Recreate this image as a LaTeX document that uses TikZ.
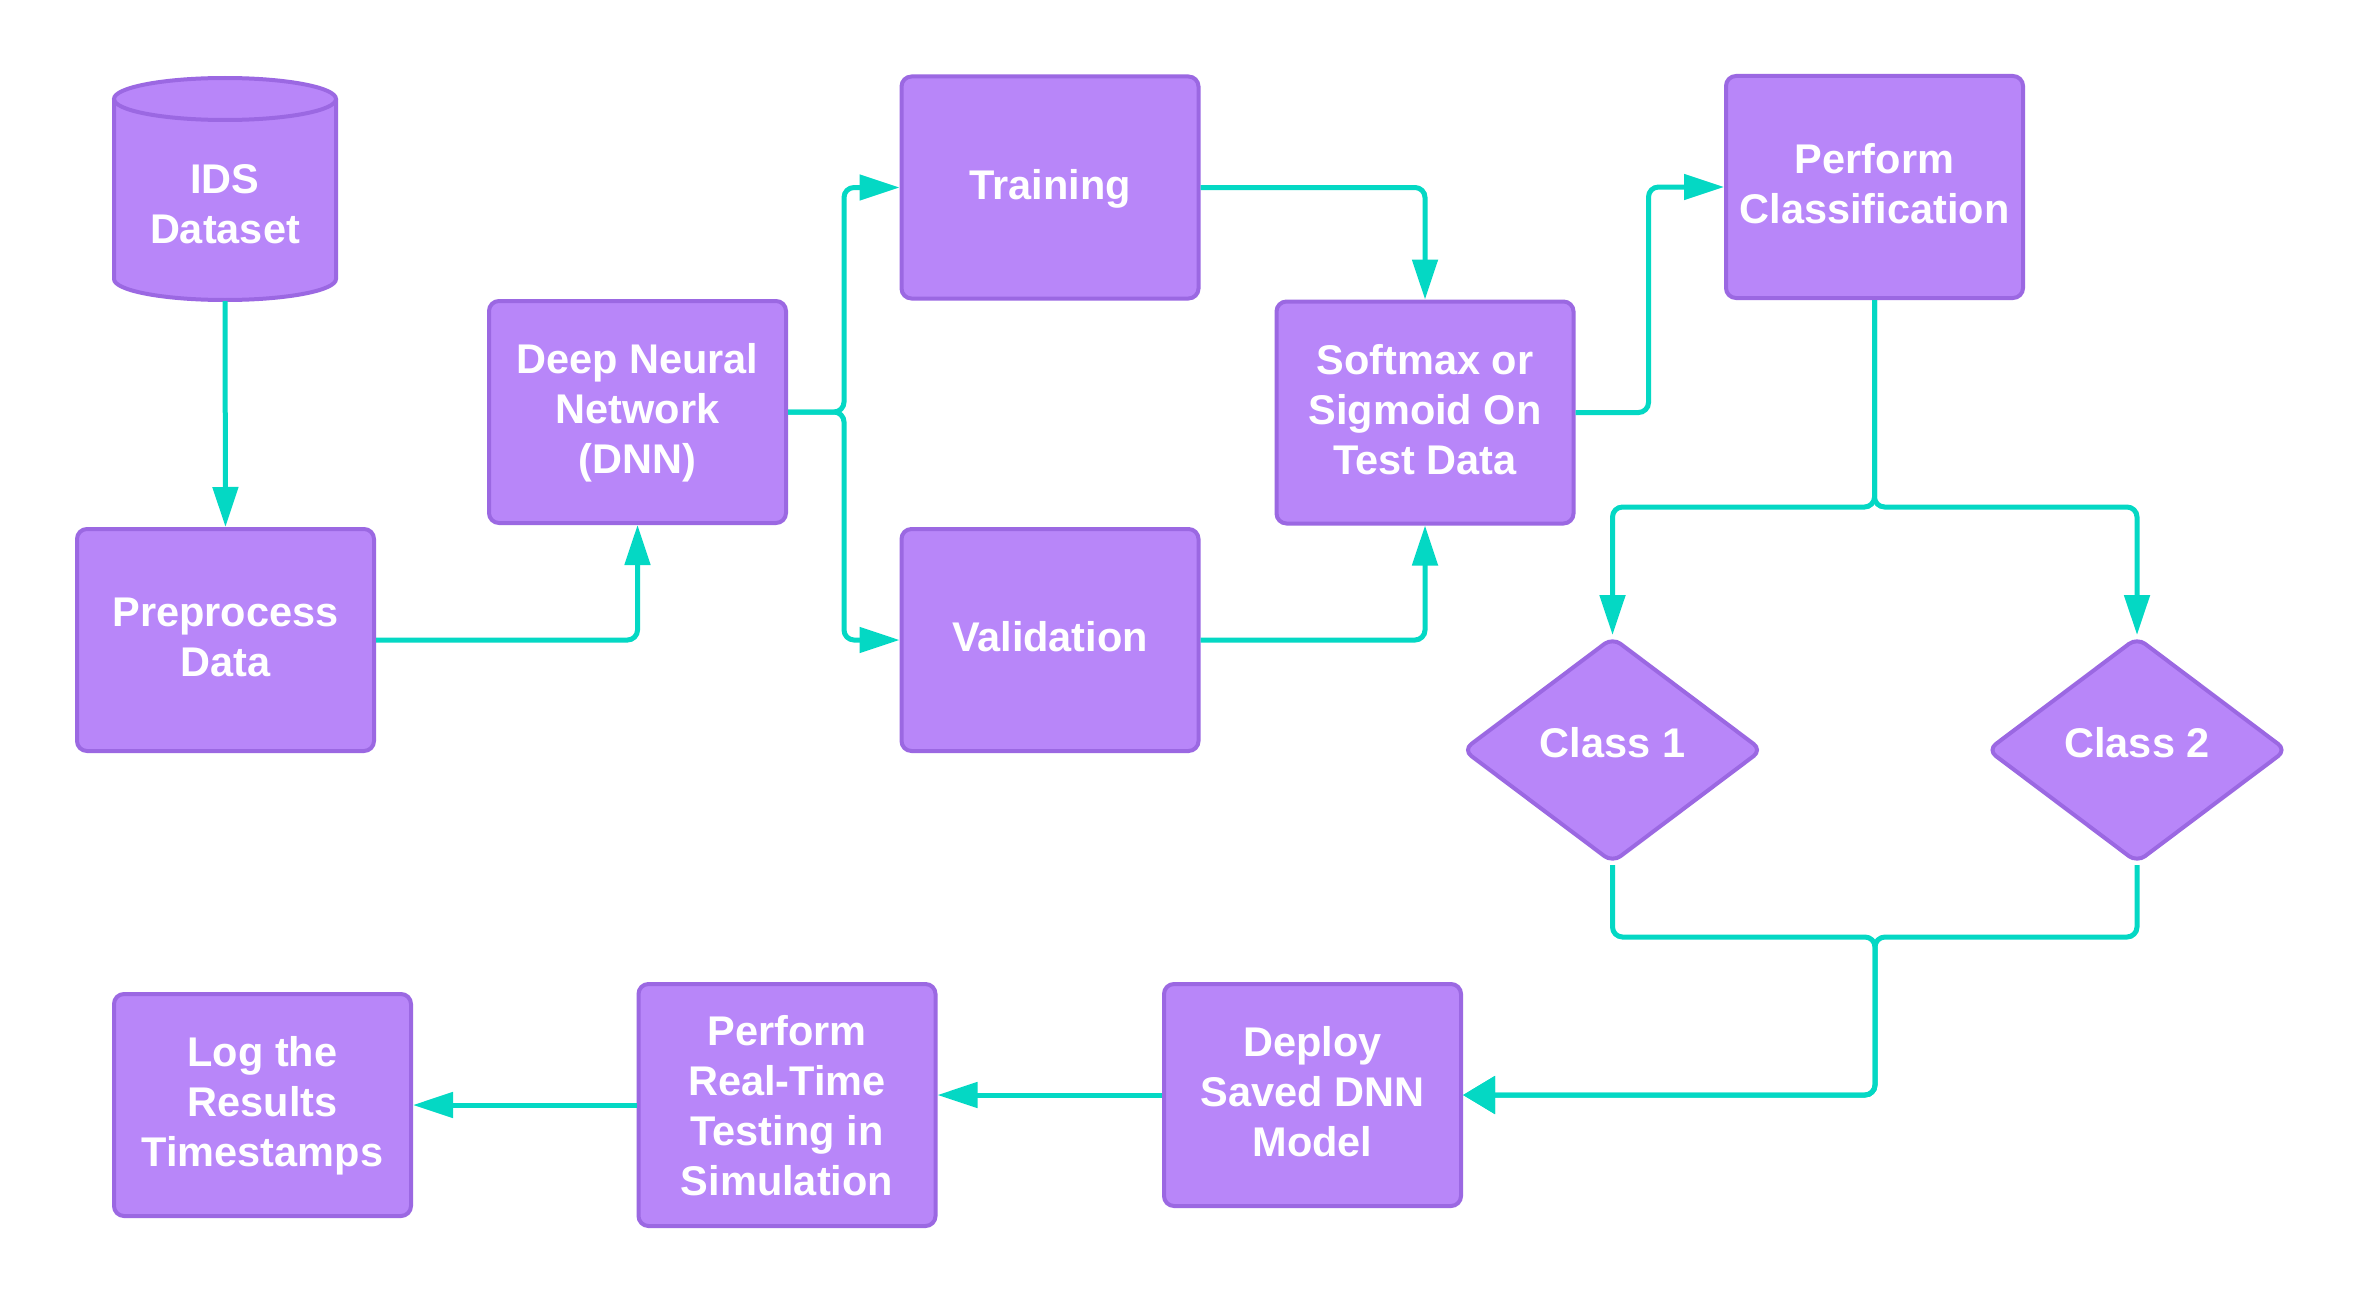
\documentclass[tikz,border=0pt]{standalone}
\usepackage{fontspec}
\setmainfont{Liberation Sans}
\usetikzlibrary{arrows.meta,shapes.geometric}
\definecolor{boxfill}{HTML}{B886F9}
\definecolor{boxline}{HTML}{9B68E2}
\definecolor{conncol}{HTML}{04D8C4}
\newcommand\tstrut{\rule[-11pt]{0pt}{45pt}}
\newcommand\dstrut{\rule[-15pt]{0pt}{35pt}}
\newcommand\rstrut{\rule[-10pt]{0pt}{50pt}}
\begin{document}
\begin{tikzpicture}[x=1pt,y=-1pt,
  boxtext/.style={text=white, align=center, inner sep=0pt, font=\fontsize{41.5}{50}\selectfont\bfseries},
  box/.style={boxtext, draw=boxline, fill=boxfill, line width=4pt, rounded corners=10pt,
              minimum width=297pt, minimum height=222pt},
  dia/.style={boxtext, diamond, draw=boxline, fill=boxfill, line width=4pt, rounded corners=10pt,
              minimum width=300pt, minimum height=226pt},
  conn/.style={draw=conncol, line width=5pt, rounded corners=10pt, -{Triangle[length=40pt,width=25pt]}},
  wideconn/.style={draw=conncol, line width=5pt, rounded corners=10pt, -{Triangle[length=32pt,width=37pt]}},
]
\useasboundingbox[fill=white] (0,0) rectangle (2363,1303);

% cylinder
\path[fill=boxfill] (114,99) -- (114,279) arc[start angle=180, end angle=360, x radius=111pt, y radius=21pt]
  -- (336,99) arc[start angle=0, end angle=180, x radius=111pt, y radius=21pt] -- cycle;
\draw[boxline, line width=4pt] (114,99) -- (114,279) arc[start angle=180, end angle=360, x radius=111pt, y radius=21pt]
  -- (336,99);
\draw[boxline, line width=4pt] (225,99) ellipse[x radius=111pt, y radius=21pt];
\node[boxtext, minimum width=222pt, minimum height=188pt] (ids) at (225,207) {\tstrut IDS\\Dataset\tstrut};

\node[box] (pre)  at (225.5,640)  {\tstrut Preprocess\\Data\tstrut};
\node[box] (dnn)  at (637.5,412)  {\tstrut Deep Neural\\Network\\(DNN)\tstrut};
\node[box] (trn)  at (1050,187.5) {\tstrut Training\tstrut};
\node[box] (val)  at (1050,640)   {\tstrut Validation\tstrut};
\node[box] (soft) at (1425,412.5) {\tstrut Softmax or\\Sigmoid On\\Test Data\tstrut};
\node[box] (cls)  at (1874.5,187) {\tstrut Perform\\Classification\tstrut};
\node[dia] (c1)   at (1612.5,750) {\dstrut Class 1\dstrut};
\node[dia] (c2)   at (2137,750)   {\dstrut Class 2\dstrut};
\node[box] (dep)  at (1312.5,1095) {\tstrut Deploy\\Saved DNN\\Model\tstrut};
\node[box, minimum height=242pt] (rt) at (787,1105) {\rstrut Perform\\Real-Time\\Testing in\\Simulation\rstrut};
\node[box] (log)  at (262.5,1105) {\tstrut Log the\\Results\\Timestamps\tstrut};

\coordinate (m) at (1875,937);

\draw[conn] (ids.south) -- (pre.north);
\draw[conn] (pre.east) -| (dnn.south);
\draw[conn] (dnn.east) -- ++(56,0) |- (trn.west);
\draw[conn] (dnn.east) -- ++(56,0) |- (val.west);
\draw[conn] (trn.east) -| (soft.north);
\draw[conn] (val.east) -| (soft.south);
\draw[conn] (soft.east) -- ++(73,0) |- (cls.west);
\draw[conn] (cls.south) -- ++(0,207) -| (c1.north);
\draw[conn] (cls.south) -- ++(0,207) -| (c2.north);
\draw[wideconn] (c1.south) |- (m) |- (dep.east);
\draw[wideconn] (c2.south) |- (m) |- (dep.east);
\draw[conn] (dep.west) -- (dep.west -| rt.east);
\draw[conn] (rt.west) -- (log.east);
\end{tikzpicture}
\end{document}
